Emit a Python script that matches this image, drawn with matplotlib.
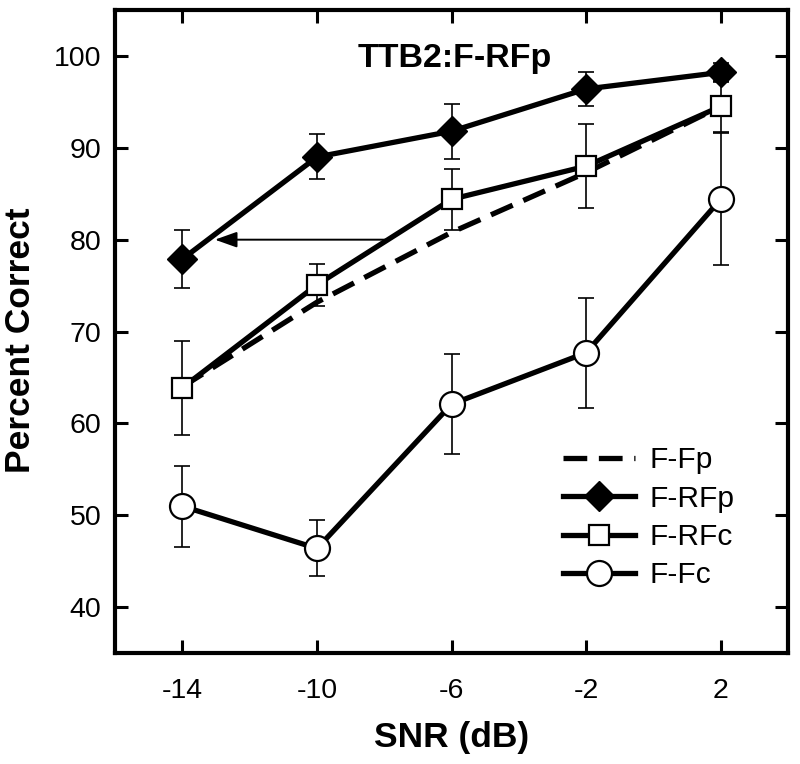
import matplotlib
matplotlib.use("Agg")
import matplotlib.pyplot as plt
import numpy as np

plt.rcParams["font.family"] = ["Liberation Sans", "DejaVu Sans"]
plt.rcParams["axes.unicode_minus"] = False

snr = [-14, -10, -6, -2, 2]

f_fp = [64.0, 73.2, 80.8, 87.3, 94.5]

f_rfp = [77.9, 89.0, 91.8, 96.4, 98.2]
f_rfp_err = [3.2, 2.45, 3.0, 1.85, 1.0]

f_rfc = [63.9, 75.1, 84.4, 88.0, 94.5]
f_rfc_err = [5.1, 2.3, 3.3, 4.6, 2.8]

f_fc = [51.0, 46.4, 62.1, 67.7, 84.4]
f_fc_err = [4.4, 3.05, 5.45, 6.0, 7.2]

arrow_level = 80
title = "TTB2:F-RFp"


def main():
    fig = plt.figure(figsize=(8, 7.64), dpi=100)
    ax = fig.add_axes([0.144, 0.145, 0.841, 0.842])

    lw = 3.8
    ekw = dict(fmt="none", ecolor="black", elinewidth=1.2, capsize=6,
               capthick=1.2, zorder=2)
    ax.errorbar(snr, f_rfp, yerr=f_rfp_err, **ekw)
    ax.errorbar(snr, f_rfc, yerr=f_rfc_err, **ekw)
    ax.errorbar(snr, f_fc, yerr=f_fc_err, **ekw)

    ax.plot(snr, f_fp, color="black", lw=lw, dashes=(4.5, 2.2),
            dash_capstyle="butt", label="F-Fp", zorder=3)
    ax.plot(snr, f_rfp, color="black", lw=lw, marker="D", ms=15,
            mfc="black", mec="black", label="F-RFp", zorder=4)
    ax.plot(snr, f_rfc, color="black", lw=lw, marker="s", ms=15,
            mfc="white", mec="black", mew=1.6, label="F-RFc", zorder=4)
    ax.plot(snr, f_fc, color="black", lw=lw, marker="o", ms=18,
            mfc="white", mec="black", mew=1.6, label="F-Fc", zorder=4)

    # arrow between the two curves at the same level
    x_start = np.interp(arrow_level, f_rfc, snr)
    x_end = np.interp(arrow_level, f_rfp, snr)
    ax.annotate("", xy=(x_end, arrow_level), xytext=(x_start, arrow_level),
                arrowprops=dict(arrowstyle="-|>,head_length=0.45,head_width=0.16",
                                mutation_scale=30, lw=1.4, color="black",
                                shrinkA=0, shrinkB=5),
                zorder=5)

    ax.text(-5.9, 98.8, title, ha="center", va="baseline",
            fontsize=24.5, fontweight="bold")

    ax.set_xlim(-16, 4)
    ax.set_ylim(35, 105)
    ax.set_xticks(snr)
    ax.set_yticks([40, 50, 60, 70, 80, 90, 100])

    for s in ax.spines.values():
        s.set_linewidth(3)
    ax.tick_params(direction="in", length=9.5, width=2.2, top=True,
                   right=True, labelsize=20.5)
    ax.tick_params(axis="x", pad=18)
    ax.tick_params(axis="y", pad=10)

    ax.set_xlabel("SNR (dB)", fontsize=25.5, fontweight="bold")
    ax.set_ylabel("Percent Correct", fontsize=25.5, fontweight="bold")
    ax.xaxis.set_label_coords(0.5, -0.105)
    ax.yaxis.set_label_coords(-0.116, 0.486)

    ax.legend(loc="upper left", bbox_to_anchor=(0.666, 0.322), frameon=False,
              fontsize=21.5, handlelength=2.4, handletextpad=0.5,
              labelspacing=0.35, borderpad=0, borderaxespad=0, numpoints=1)

    fig.savefig("out.png", dpi=100)


if __name__ == "__main__":
    main()
